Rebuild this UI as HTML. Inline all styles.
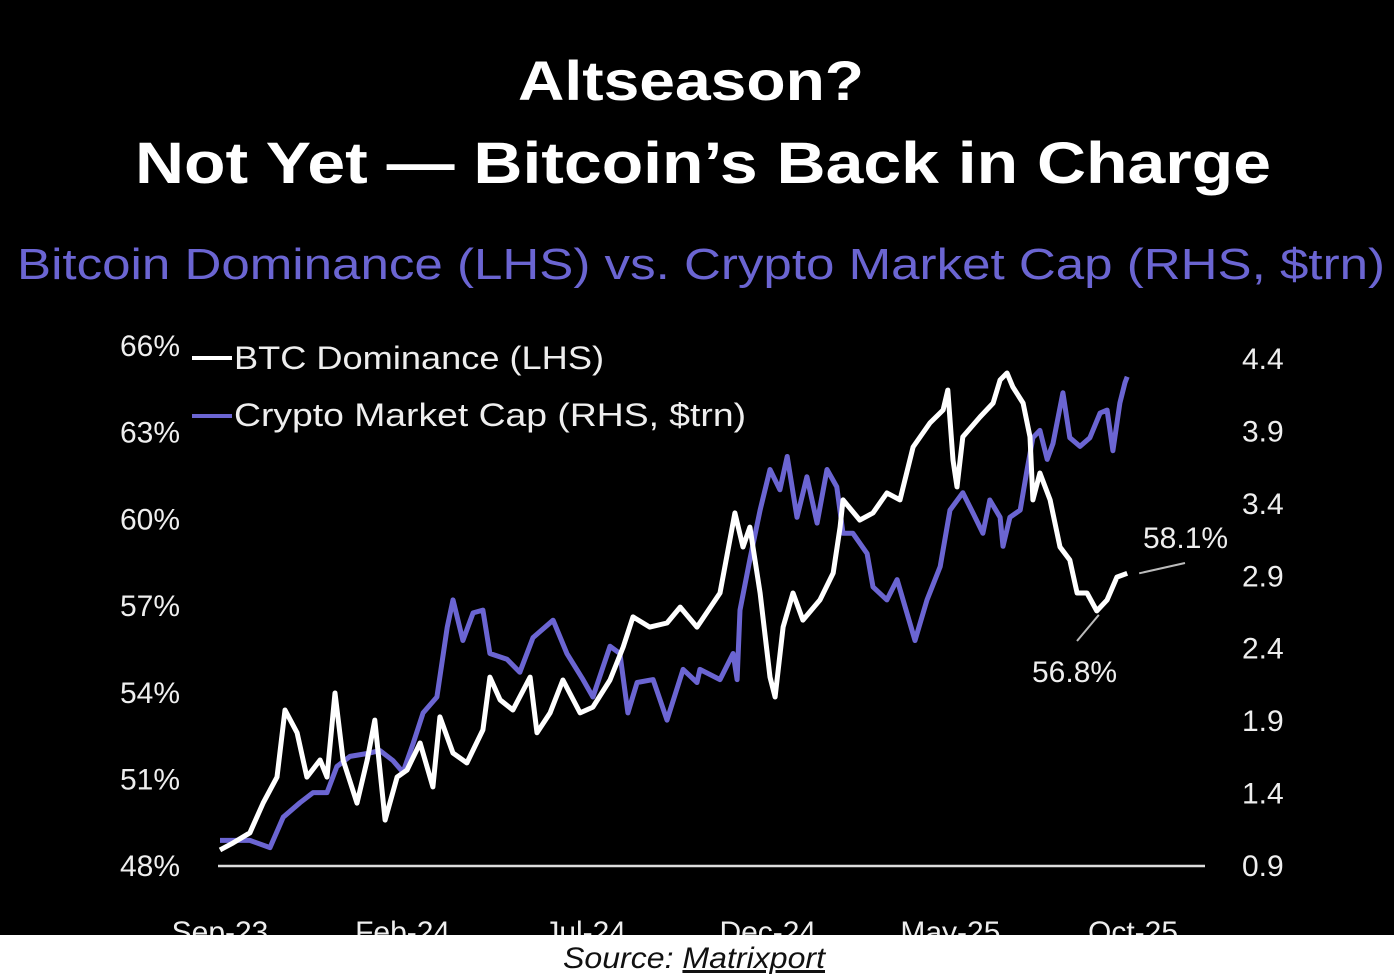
<!DOCTYPE html>
<html><head><meta charset="utf-8"><style>
html,body{margin:0;padding:0;background:#000;width:1394px;height:976px;overflow:hidden}
svg{display:block}
text{font-family:"Liberation Sans",sans-serif}
</style></head><body>
<svg id="chart" width="1394" height="976" viewBox="0 0 1394 976">
<rect x="0" y="0" width="1394" height="976" fill="#000"/>
<text x="691" y="100" text-anchor="middle" fill="#fff" font-size="56" font-weight="bold" textLength="346" lengthAdjust="spacingAndGlyphs">Altseason?</text>
<text x="703" y="183" text-anchor="middle" fill="#fff" font-size="58" font-weight="bold" textLength="1136" lengthAdjust="spacingAndGlyphs">Not Yet — Bitcoin’s Back in Charge</text>
<text x="701" y="279" text-anchor="middle" fill="#6b65d2" font-size="44" textLength="1368" lengthAdjust="spacingAndGlyphs">Bitcoin Dominance (LHS) vs. Crypto Market Cap (RHS, $trn)</text>
<g id="yleft"></g>
<g id="yright"></g>
<g id="xlab"></g>
<line x1="218" y1="866" x2="1205" y2="866" stroke="#ddd" stroke-width="2.5"/>
<g id="series"></g>
<g>
<line x1="192" y1="358" x2="232" y2="358" stroke="#fff" stroke-width="4"/>
<text x="234" y="369" fill="#eee" font-size="32" textLength="370" lengthAdjust="spacingAndGlyphs">BTC Dominance (LHS)</text>
<line x1="192" y1="416" x2="232" y2="416" stroke="#6b65d2" stroke-width="4"/>
<text x="234" y="426" fill="#eee" font-size="32" textLength="512" lengthAdjust="spacingAndGlyphs">Crypto Market Cap (RHS, $trn)</text>
</g>
<g id="annot"></g>
<rect x="0" y="935" width="1394" height="41" fill="#fff"/>
<text x="694" y="968" text-anchor="middle" fill="#111" font-size="30" font-style="italic" textLength="262" lengthAdjust="spacingAndGlyphs">Source: <tspan text-decoration="underline">Matrixport</tspan></text>
</svg>
<script>
const leftTicks=[66,63,60,57,54,51,48];
const rightTicks=[4.4,3.9,3.4,2.9,2.4,1.9,1.4,0.9];
const xTickMonths=[0,5,10,15,20,25];
const xTickLabels=["Sep-23","Feb-24","Jul-24","Dec-24","May-25","Oct-25"];
const btcMonths=[0,.36,.82,1.18,1.56,1.78,2.11,2.38,2.74,2.93,3.15,3.37,3.75,4.03,4.24,4.52,4.85,5.12,5.48,5.83,6.02,6.38,6.76,7.2,7.39,7.67,8.02,8.49,8.68,9.04,9.39,9.86,10.21,10.68,11.04,11.31,11.77,12.24,12.6,13.06,13.69,14.1,14.32,14.51,14.79,15.06,15.2,15.42,15.69,15.96,16.43,16.79,16.98,17.06,17.52,17.88,18.26,18.62,18.98,19.44,19.8,19.93,20.07,20.18,20.34,20.81,21.17,21.36,21.55,21.71,21.99,22.18,22.26,22.45,22.73,23,23.27,23.47,23.74,24.01,24.29,24.56,24.84];
const btcDominance=[48.53,48.77,49.12,50.15,51.05,53.37,52.58,51.05,51.64,51.05,53.96,51.64,50.15,51.64,53.02,49.56,51.05,51.29,52.23,50.71,53.13,51.88,51.54,52.68,54.51,53.72,53.37,54.51,52.58,53.27,54.41,53.27,53.47,54.41,55.55,56.59,56.24,56.38,56.93,56.24,57.42,60.19,59.01,59.7,57.42,54.51,53.82,56.24,57.42,56.48,57.18,58.11,59.7,60.64,59.94,60.19,60.88,60.64,62.47,63.3,63.75,64.44,62.02,61.09,62.82,63.51,63.99,64.79,65.03,64.55,63.99,62.82,60.64,61.57,60.64,59.01,58.56,57.42,57.42,56.8,57.18,57.97,58.1];
const mcapMonths=[0,.82,1.37,1.73,2.19,2.55,2.93,3.2,3.56,4.03,4.38,4.74,5.01,5.29,5.56,5.94,6.22,6.38,6.65,6.93,7.2,7.39,7.86,8.21,8.57,9.12,9.5,9.94,10.21,10.68,10.95,11.17,11.42,11.86,12.24,12.68,13.06,13.14,13.69,14.05,14.16,14.24,14.51,14.79,15.06,15.33,15.53,15.8,16.07,16.35,16.62,16.89,17.06,17.33,17.72,17.88,18.26,18.54,18.81,19.03,19.36,19.72,19.99,20.34,20.62,20.89,21.08,21.36,21.44,21.63,21.91,22.1,22.26,22.45,22.65,22.81,23.08,23.27,23.55,23.82,24.1,24.29,24.45,24.64,24.78,24.84];
const marketCap=[1.07,1.07,1.02,1.23,1.33,1.4,1.4,1.58,1.65,1.67,1.69,1.62,1.54,1.74,1.95,2.06,2.54,2.73,2.45,2.64,2.66,2.36,2.32,2.23,2.47,2.59,2.36,2.18,2.06,2.41,2.36,1.95,2.16,2.18,1.9,2.25,2.16,2.25,2.18,2.36,2.18,2.66,3.01,3.35,3.63,3.49,3.72,3.3,3.58,3.26,3.63,3.51,3.19,3.19,3.05,2.82,2.73,2.87,2.64,2.45,2.73,2.96,3.35,3.47,3.33,3.19,3.42,3.3,3.1,3.3,3.35,3.63,3.85,3.9,3.7,3.81,4.16,3.85,3.79,3.85,4.02,4.04,3.76,4.09,4.23,4.27];
const NS="http://www.w3.org/2000/svg";
const xS=m=>220+m*36.52;
const yL=v=>345+(66-v)/3*86.7;
const yR=v=>358+(4.4-v)/3.5*507;
function mk(tag,attrs,parent,txt){const e=document.createElementNS(NS,tag);for(const k in attrs)e.setAttribute(k,attrs[k]);if(txt!=null)e.textContent=txt;parent.appendChild(e);return e;}
const gl=document.getElementById('yleft');
leftTicks.forEach(v=>{const t=mk('text',{x:180,y:yL(v)+11,'text-anchor':'end',fill:'#eee','font-size':30},gl,v+'%');

});
const gr=document.getElementById('yright');
rightTicks.forEach(v=>{const t=mk('text',{x:1242,y:yR(v)+11,fill:'#eee','font-size':30},gr,v.toFixed(1));

});
const gx=document.getElementById('xlab');
xTickMonths.forEach((m,i)=>{const t=mk('text',{x:xS(m),y:942,'text-anchor':'middle',fill:'#eee','font-size':30},gx,xTickLabels[i]);

});
const gs=document.getElementById('series');
const pm=mk('polyline',{points:mcapMonths.map((m,i)=>xS(m).toFixed(1)+','+yR(marketCap[i]).toFixed(1)).join(' '),fill:'none',stroke:'#6b65d2','stroke-width':5,'stroke-linejoin':'round'},gs);


const pb=mk('polyline',{points:btcMonths.map((m,i)=>xS(m).toFixed(1)+','+yL(btcDominance[i]).toFixed(1)).join(' '),fill:'none',stroke:'#fff','stroke-width':5,'stroke-linejoin':'round'},gs);


const ga=document.getElementById('annot');
const n=btcMonths.length-1;
const l1=mk('line',{x1:xS(btcMonths[n])+12,y1:yL(btcDominance[n]),x2:1185,y2:563,stroke:'#bbb','stroke-width':2},ga);


const t1=mk('text',{x:1143,y:548,fill:'#eee','font-size':30},ga,'58.1%');


const l2=mk('line',{x1:xS(24.01)+2,y1:yL(56.8)+4,x2:1077,y2:641,stroke:'#bbb','stroke-width':2},ga);


const t2=mk('text',{x:1032,y:682,fill:'#eee','font-size':30},ga,'56.8%');


</script>
</body></html>
